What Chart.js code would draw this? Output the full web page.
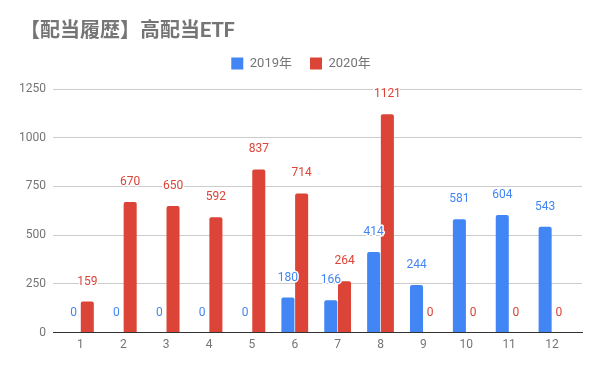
<!DOCTYPE html>
<html>
<head>
<meta charset="utf-8">
<script src="https://cdn.jsdelivr.net/npm/chart.js@4/dist/chart.umd.min.js"></script>
<style>
  html, body { margin: 0; padding: 0; background: #fff; }
  #wrap { width: 600px; height: 371px; }
</style>
</head>
<body>
<div id="wrap"><canvas id="myChart" width="600" height="371"></canvas></div>
<script>
const months = [1, 2, 3, 4, 5, 6, 7, 8, 9, 10, 11, 12];
const div2019 = [0, 0, 0, 0, 0, 180, 166, 414, 244, 581, 604, 543];
const div2020 = [159, 670, 650, 592, 837, 714, 264, 1121, 0, 0, 0, 0];
const yTicks = [0, 250, 500, 750, 1000, 1250];

const FONT = "Roboto, 'Noto Sans CJK JP', sans-serif";
const BLUE = '#4285F4';
const RED = '#DB4437';

// draws the value above each bar, like the sheets chart does
const valueLabels = {
  id: 'valueLabels',
  afterDatasetsDraw(chart) {
    const ctx = chart.ctx;
    ctx.save();
    ctx.font = '12px ' + FONT;
    ctx.textAlign = 'center';
    ctx.textBaseline = 'middle';
    ctx.lineJoin = 'round';
    chart.data.datasets.forEach((ds, i) => {
      const meta = chart.getDatasetMeta(i);
      meta.data.forEach((bar, j) => {
        const txt = String(ds.data[j].y);
        const y = bar.y - 20;
        ctx.strokeStyle = '#fff';
        ctx.lineWidth = 3;
        ctx.strokeText(txt, bar.x, y);
        ctx.fillStyle = ds.backgroundColor;
        ctx.fillText(txt, bar.x, y);
      });
    });
    ctx.restore();
  }
};

// a bit more room under the legend
const legendGap = {
  id: 'legendGap',
  beforeInit(chart) {
    const fit = chart.legend.fit;
    chart.legend.fit = function () {
      fit.bind(chart.legend)();
      this.height += 9;
    };
  }
};

const draw = () => {
  const data = {
    datasets: [
      {
        label: '2019年',
        data: months.map((m, i) => ({ x: m, y: div2019[i] })),
        backgroundColor: BLUE,
        borderRadius: 2,
        categoryPercentage: 0.64,
        barPercentage: 0.95,
      },
      {
        label: '2020年',
        data: months.map((m, i) => ({ x: m, y: div2020[i] })),
        backgroundColor: RED,
        borderRadius: 2,
        categoryPercentage: 0.64,
        barPercentage: 0.95,
      },
    ],
  };

  const ctx = document.getElementById('myChart').getContext('2d');
  new Chart(ctx, {
    type: 'bar',
    data: data,
    plugins: [valueLabels, legendGap],
    options: {
      responsive: false,
      animation: false,
      layout: { padding: { left: 20, right: 18, top: 0, bottom: 14 } },
      plugins: {
        tooltip: { enabled: false },
        title: {
          display: true,
          text: '【配当履歴】高配当ETF',
          align: 'start',
          color: '#757575',
          font: { family: FONT, size: 20, weight: 'bold' },
          padding: { top: 20, bottom: -5 },
        },
        legend: {
          display: true,
          labels: {
            color: '#757575',
            font: { family: FONT, size: 13 },
            boxWidth: 12,
            boxHeight: 12,
            padding: 18,
          },
        },
      },
      scales: {
        x: {
          type: 'linear',
          min: 0.36,
          max: 12.7,
          offset: false,
          grid: { display: false, drawTicks: false },
          border: { display: true, color: '#333333', width: 1 },
          ticks: {
            stepSize: 1,
            color: '#757575',
            font: { family: FONT, size: 12 },
            padding: 5,
            maxRotation: 0,
          },
          afterBuildTicks: (s) => {
            s.ticks = months.map((m) => ({ value: m }));
          },
        },
        y: {
          min: 0,
          max: 1250,
          grid: {
            color: (c) => (c.tick && c.tick.value === 0 ? '#333333' : '#cccccc'),
            drawTicks: false,
          },
          border: { display: false },
          ticks: {
            color: '#757575',
            font: { family: FONT, size: 12 },
            padding: 7,
            callback: (v) => String(v),
          },
          afterBuildTicks: (s) => {
            s.ticks = yTicks.map((v) => ({ value: v }));
          },
          afterFit: (s) => {
            s.width = 33;
          },
        },
      },
    },
  });
};

window.onload = () => {
  draw();
};
</script>
</body>
</html>
